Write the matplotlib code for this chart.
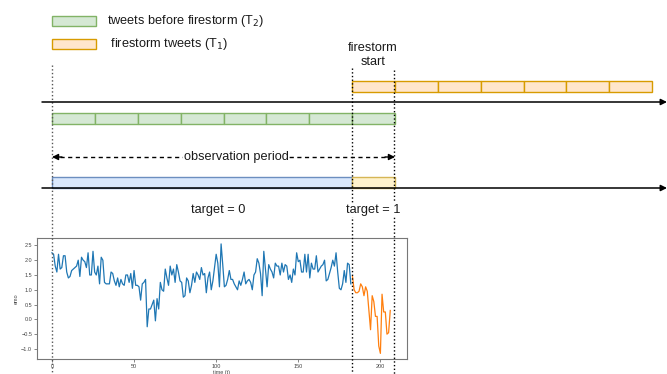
import matplotlib.pyplot as plt  # plotting
from matplotlib.patches import Rectangle  # boxes of the diagram
import numpy as np  # numerical arrays

plt.rcParams['font.family'] = ['Liberation Sans', 'DejaVu Sans']

# ---------------------------------------------------------------- data
legend_labels = ['tweets before firestorm (T$_2$)', ' firestorm tweets (T$_1$)']
target_labels = ['target = 0', 'target = 1']
n_before_windows = 8   # windows of the T2 row
n_storm_windows = 7    # windows of the T1 row

# emotion series, before the firestorm (t = 0 .. 182)
emo_before = [
    2.25, 2.2, 1.8, 1.6, 2.2, 1.7, 1.75, 2.15, 2.15, 1.6,
    1.4, 1.45, 1.65, 1.7, 1.75, 1.8, 2.0, 1.45, 2.1, 2.0,
    1.95, 1.75, 2.25, 1.5, 1.5, 2.3, 1.6, 1.5, 1.8, 1.2,
    2.1, 2.0, 1.25, 1.2, 1.2, 1.2, 1.6, 1.55, 1.3, 1.15,
    1.4, 1.1, 1.35, 1.2, 1.15, 1.5, 1.5, 1.25, 1.55, 1.05,
    1.65, 1.15, 1.15, 1.1, 0.65, 1.2, 1.25, 1.35, -0.25, 0.35,
    0.35, 0.5, 0.65, -0.05, 0.7, 0.35, 1.25, 1.0, 0.95, 1.7,
    1.4, 1.15, 1.8, 1.5, 1.7, 1.25, 1.85, 1.6, 1.3, 1.25,
    0.75, 0.8, 1.4, 1.3, 0.9, 1.15, 1.55, 1.25, 1.6, 1.5,
    1.35, 1.75, 1.5, 1.55, 0.9, 1.4, 1.6, 1.0, 1.3, 1.75,
    2.2, 1.9, 1.1, 2.55, 1.85, 1.1, 1.15, 1.35, 1.65, 1.35,
    1.35, 1.2, 1.1, 1.0, 1.3, 1.15, 1.35, 1.6, 1.2, 1.3,
    1.35, 1.25, 1.0, 1.5, 1.6, 2.05, 1.9, 1.55, 0.8, 2.3,
    1.7, 1.1, 1.85, 1.7, 1.6, 1.4, 1.9, 1.8, 1.8, 1.5,
    1.9, 1.6, 1.85, 1.8, 1.35, 1.5, 1.25, 1.7, 1.5, 2.25,
    1.95, 2.0, 1.6, 1.6, 2.2, 1.6, 2.2, 1.4, 1.9, 1.7,
    1.7, 2.15, 1.6, 1.7, 1.8, 1.85, 2.0, 1.3, 1.35, 1.55,
    1.75, 2.0, 1.8, 2.25, 1.6, 1.05, 1.0, 1.2, 1.65, 1.25,
    1.9, 1.85, 1.2,
]
# emotion series during the firestorm (t = 183 .. 206)
emo_storm = [
    1.45, 1.0, 0.9, 0.9, 0.95, 1.2, 1.1, 0.8, 1.1, 0.95,
    0.3, -0.35, 0.8, 0.6, 0.1, 0.1, -0.9, -1.15, 0.85, 0.25,
    0.25, -0.5, -0.45, 0.3,
]
xticks = [0, 50, 100, 150, 200]
yticks = [-1.0, -0.5, 0.0, 0.5, 1.0, 1.5, 2.0, 2.5]

# draw.io style colours (fill, edge)
GREEN = ('#d5e8d4', '#82b366')
ORANGE = ('#ffe6cc', '#d79b00')
BLUE = ('#dae8fc', '#6c8ebf')
YELLOW = ('#fff2cc', '#d6b656')
TXT = '#1a1a1a'
FS = 9.2

W, H = 667, 374
fig = plt.figure(figsize=(W / 100, H / 100), dpi=100)

# ---------------------------------------------------------------- inset plot
ax2 = fig.add_axes([37 / W, 15 / H, 370 / W, 121 / H])
t_before = np.arange(len(emo_before))
t_storm = np.arange(len(emo_before), len(emo_before) + len(emo_storm))
ax2.plot(t_before, emo_before, color='#1f77b4', lw=0.9)
ax2.plot(t_storm, emo_storm, color='#ff7f0e', lw=0.9)
ax2.set_xlim(-9.1, 216.2)
ax2.set_ylim(-1.34, 2.75)
ax2.set_xticks(xticks)
ax2.set_yticks(yticks)
ax2.tick_params(labelsize=4, length=2, width=0.5, pad=1.5,
                colors='#555555', labelcolor='#444444')
for sp in ax2.spines.values():
    sp.set_color('#777777')
    sp.set_linewidth(0.8)
ax2.set_xlabel('time (t)', fontsize=4, labelpad=1, color='#444444')
ax2.set_ylabel('emo', fontsize=4, labelpad=2, color='#444444')
ax2.set_zorder(1)

# ---------------------------------------------------------------- diagram
ax = fig.add_axes([0, 0, 1, 1])
ax.set_xlim(0, W)
ax.set_ylim(H, 0)
ax.axis('off')
ax.set_zorder(2)

x0, x_fire, x_end = 52, 352, 395    # observation start, firestorm start, end
win = (x_end - x0) / n_before_windows

# legend
ax.add_patch(Rectangle((52, 16), 44, 10, fc=GREEN[0], ec=GREEN[1], lw=1))
ax.add_patch(Rectangle((52, 39), 44, 10, fc=ORANGE[0], ec=ORANGE[1], lw=1))
ax.text(107, 21, legend_labels[0], fontsize=FS, va='center', ha='left', color=TXT)
ax.text(107, 44, legend_labels[1], fontsize=FS, va='center', ha='left', color=TXT)

ax.text(373, 55, 'firestorm\nstart', fontsize=FS, ha='center', va='center',
        linespacing=1.15, color=TXT)

# time axes with arrows
for y in (102, 188):
    ax.annotate('', xy=(667, y), xytext=(42, y),
                arrowprops=dict(arrowstyle='-|>', color='black', lw=1.1,
                                mutation_scale=9, shrinkA=0, shrinkB=0))

# T1 windows
for k in range(n_storm_windows):
    ax.add_patch(Rectangle((x_fire + k * win, 81), win, 11,
                           fc=ORANGE[0], ec=ORANGE[1], lw=1))
# T2 windows
for k in range(n_before_windows):
    ax.add_patch(Rectangle((x0 + k * win, 113), win, 11,
                           fc=GREEN[0], ec=GREEN[1], lw=1))

# observation period arrow
ax.plot([x0 + 8, x_end - 8], [157, 157], color='black', lw=1, ls=(0, (3, 2.5)))
for xa, xb in ((x0 + 10, x0), (x_end - 10, x_end)):
    ax.annotate('', xy=(xb, 157), xytext=(xa, 157),
                arrowprops=dict(arrowstyle='-|>', color='black', lw=1,
                                mutation_scale=9, shrinkA=0, shrinkB=0))
ax.text(236, 157, 'observation period', fontsize=FS, ha='center', va='center',
        color=TXT, bbox=dict(fc='white', ec='none', pad=0.5))

# target blocks
ax.add_patch(Rectangle((x0, 177), x_fire - x0, 11, fc=BLUE[0], ec=BLUE[1], lw=1))
ax.add_patch(Rectangle((x_fire, 177), x_end - x_fire, 11,
                       fc=YELLOW[0], ec=YELLOW[1], lw=1))
ax.text(218, 210, target_labels[0], fontsize=FS, ha='center', va='center',
        color=TXT, zorder=5, bbox=dict(fc='white', ec='none', pad=1))
ax.text(373, 210, target_labels[1], fontsize=FS, ha='center', va='center',
        color=TXT, zorder=5, bbox=dict(fc='white', ec='none', pad=1))

# dotted guide lines
ax.plot([x0, x0], [65, H], color='#555555', lw=1, ls=':')
ax.plot([x_fire, x_fire], [68, H], color='black', lw=1, ls=':')
ax.plot([x_end - 1, x_end - 1], [70, H], color='black', lw=1, ls=':')

fig.savefig('out.png', dpi=100)
